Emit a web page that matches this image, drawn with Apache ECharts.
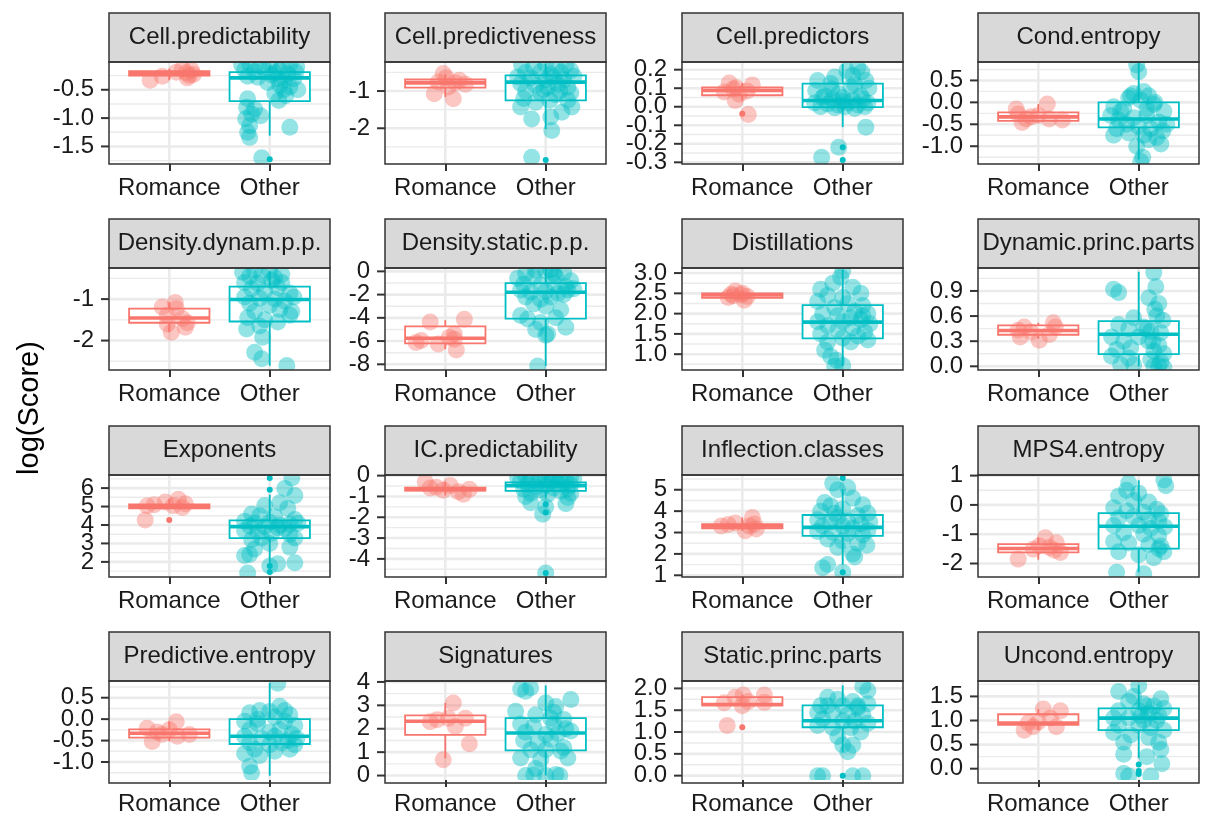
<!DOCTYPE html>
<html><head><meta charset="utf-8">
<script src="https://cdn.jsdelivr.net/npm/echarts@6/dist/echarts.min.js"></script>
<style>html,body{margin:0;padding:0;background:#fff}#c{width:1205px;height:816px}</style>
</head><body><div id="c"></div>
<script>
const facetNames = ['Cell.predictability','Cell.predictiveness','Cell.predictors','Cond.entropy',
  'Density.dynam.p.p.','Density.static.p.p.','Distillations','Dynamic.princ.parts',
  'Exponents','IC.predictability','Inflection.classes','MPS4.entropy',
  'Predictive.entropy','Signatures','Static.princ.parts','Uncond.entropy'];
const groupLabels = ['Romance','Other'];
const yAxisTitle = 'log(Score)';
const yRanges = [[-1.81,-0.01],[-2.96,-0.22],[-0.309,0.2415],[-1.405,0.92],
  [-2.71,-0.25],[-8.49,0.29],[0.61,3.125],[-0.044,1.174],
  [1.18,6.71],[-4.87,0.03],[0.92,5.69],[-2.46,1.02],
  [-1.42,0.89],[-0.19,4.04],[-0.1,2.17],[-0.235,1.82]];
const yTicks = [[-0.5,-1.0,-1.5],[-1,-2],[0.2,0.1,0,-0.1,-0.2,-0.3],[0.5,0,-0.5,-1.0],
  [-1,-2],[0,-2,-4,-6,-8],[3,2.5,2,1.5,1],[0.9,0.6,0.3,0],
  [6,5,4,3,2],[0,-1,-2,-3,-4],[5,4,3,2,1],[1,0,-1,-2],
  [0.5,0,-0.5,-1],[4,3,2,1,0],[2,1.5,1,0.5,0],[1.5,1,0.5,0]];
const yTickLabels = [['-0.5','-1.0','-1.5'],['-1','-2'],['0.2','0.1','0.0','-0.1','-0.2','-0.3'],['0.5','0.0','-0.5','-1.0'],
  ['-1','-2'],['0','-2','-4','-6','-8'],['3.0','2.5','2.0','1.5','1.0'],['0.9','0.6','0.3','0.0'],
  ['6','5','4','3','2'],['0','-1','-2','-3','-4'],['5','4','3','2','1'],['1','0','-1','-2'],
  ['0.5','0.0','-0.5','-1.0'],['4','3','2','1','0'],['2.0','1.5','1.0','0.5','0.0'],['1.5','1.0','0.5','0.0']];
// [lowWhisker, q1, median, q3, highWhisker]
const romanceBox = [[-0.33,-0.25,-0.21,-0.17,-0.13],[-1.16,-0.91,-0.78,-0.69,-0.55],[0.034,0.062,0.088,0.104,0.128],[-0.46,-0.42,-0.33,-0.23,-0.04],
  [-1.8,-1.57,-1.455,-1.228,-1.08],[-6.69,-6.2,-5.76,-4.73,-4.2],[2.33,2.39,2.46,2.5,2.56],[0.33,0.377,0.428,0.489,0.52],
  [4.89,4.9,5.02,5.12,5.4],[-0.95,-0.72,-0.66,-0.58,-0.29],[3.08,3.2,3.31,3.39,3.7],[-1.87,-1.62,-1.49,-1.34,-1.12],
  [-0.52,-0.43,-0.33,-0.237,-0.06],[0.74,1.74,2.32,2.57,3.1],[1.61,1.61,1.63,1.8,1.85],[0.8,0.91,0.946,1.13,1.24]];
const otherBox = [[-1.31,-0.70,-0.29,-0.19,-0.07],[-2.02,-1.25,-0.76,-0.58,-0.26],[-0.11,-0.002,0.034,0.125,0.23],[-1.3,-0.57,-0.38,0.0,0.9],
  [-2.61,-1.54,-1.01,-0.70,-0.33],[-8.14,-4.07,-1.8,-1.02,0.23],[0.71,1.39,1.79,2.21,3.08],[0.0,0.145,0.383,0.54,1.13],
  [1.95,3.29,3.91,4.25,5.65],[-1.1,-0.73,-0.48,-0.32,0.0],[1.5,2.84,3.24,3.82,5.03],[-2.3,-1.49,-0.73,-0.28,0.84],
  [-1.32,-0.58,-0.4,0.0,0.84],[0.0,1.08,1.82,2.45,3.85],[0.55,1.11,1.26,1.61,2.07],[0.22,0.8,1.05,1.25,1.74]];
const romanceOutliers = [[],[],[-0.038],[],[],[],[],[],[4.27],[],[],[],[],[],[1.11],[]];
const otherOutliers = [[-1.725],[-2.85],[-0.218,-0.287],[],[],[],[],[],[6.55,5.91,1.78,1.45],[-1.37,-1.77,-4.68],[5.55,1.14],[],[],[],[0.0],[0.087,-0.05,-0.11]];
// jittered observations: [x offset from group centre, value]
const romancePoints = [
  [[-0.19,-0.33],[-0.07,-0.26],[0.13,-0.13],[0.17,-0.2],[0.18,-0.29],[0.22,-0.15],[0.24,-0.23],[0.07,-0.19],[0.2,-0.25]],
  [[-0.02,-0.53],[-0.11,-1.07],[0.08,-1.21],[0.1,-0.78],[0.2,-0.82],[0.03,-0.89],[0.14,-0.71],[-0.07,-0.76],[0.01,-0.64]],
  [[-0.13,0.128],[-0.06,0.103],[-0.18,0.079],[-0.03,0.067],[0.1,0.118],[0.05,0.085],[-0.07,0.034],[0.06,-0.042],[-0.09,0.097]],
  [[-0.2,-0.267],[-0.16,-0.458],[-0.12,-0.38],[0.09,-0.038],[0.11,-0.38],[0.24,-0.40],[-0.07,-0.33],[-0.22,-0.15],[0.0,-0.3]],
  [[-0.07,-1.19],[0.06,-1.08],[0.07,-1.23],[-0.02,-1.39],[0.13,-1.47],[0.18,-1.57],[0.02,-1.8],[0.16,-1.68],[-0.02,-1.6]],
  [[-0.15,-4.36],[0.19,-4.13],[-0.29,-6.12],[-0.24,-5.96],[-0.07,-6.25],[0.09,-5.4],[0.09,-5.85],[0.11,-6.76],[0.04,-5.67]],
  [[-0.14,2.4],[-0.07,2.56],[-0.01,2.46],[0.02,2.33],[-0.09,2.44],[0.0,2.5],[-0.11,2.48],[0.05,2.42]],
  [[-0.2,0.43],[-0.18,0.35],[-0.14,0.47],[0.01,0.31],[0.15,0.52],[0.17,0.47],[0.11,0.38],[-0.07,0.41]],
  [[-0.22,5.04],[-0.24,4.27],[-0.04,5.25],[0.09,5.4],[0.13,4.95],[0.16,5.15],[-0.15,5.1],[0.04,5.05]],
  [[-0.2,-0.29],[-0.09,-0.56],[0.05,-0.48],[0.13,-0.77],[0.18,-0.89],[0.24,-0.65],[-0.02,-0.7],[-0.15,-0.6]],
  [[-0.21,3.31],[-0.07,3.44],[0.07,3.31],[0.1,3.7],[0.14,3.16],[0.03,3.08],[-0.14,3.38],[0.12,3.4]],
  [[-0.2,-1.85],[-0.05,-1.51],[0.07,-1.12],[0.18,-1.29],[0.22,-1.62],[0.11,-1.45],[0.01,-1.4],[0.16,-1.55]],
  [[-0.22,-0.21],[-0.17,-0.52],[-0.07,-0.35],[0.07,-0.06],[0.08,-0.40],[0.2,-0.36],[0.0,-0.25],[-0.12,-0.3]],
  [[-0.02,0.68],[0.08,3.1],[-0.08,2.38],[0.03,2.45],[0.2,2.45],[0.24,1.36],[0.1,2.1],[-0.15,2.3]],
  [[-0.15,1.15],[-0.18,1.67],[-0.07,1.8],[0.01,1.85],[0.06,1.7],[0.22,1.85],[0.22,1.68],[0.0,1.6]],
  [[-0.14,0.8],[-0.05,0.87],[0.05,1.24],[0.22,1.2],[0.18,0.87],[0.0,0.97],[0.12,1.05],[-0.1,0.95]]
];
const otherPoints = [
  [[-0.28,-0.06],[-0.2,-0.04],[-0.1,-0.08],[0.0,-0.05],[0.12,-0.07],[0.2,-0.05],[0.27,-0.1],[-0.25,-0.15],[-0.15,-0.18],[-0.05,-0.14],[0.05,-0.2],[0.1,-0.16],[0.18,-0.22],[0.26,-0.19],[-0.22,-0.26],[-0.12,-0.28],[0.02,-0.24],[0.08,-0.3],[0.15,-0.33],[0.24,-0.3],[-0.02,-0.37],[0.1,-0.42],[0.2,-0.45],[0.14,-0.5],[0.28,-0.5],[0.05,-0.56],[0.16,-0.6],[-0.22,-0.66],[-0.23,-0.81],[-0.15,-0.84],[-0.18,-0.93],[-0.09,-0.96],[-0.24,-1.01],[-0.2,-1.13],[-0.22,-1.25],[-0.2,-1.34],[0.2,-1.16],[-0.08,-1.7],[0.09,-0.69]],
  [[-0.24,-0.3],[-0.12,-0.35],[0.0,-0.28],[0.1,-0.32],[0.2,-0.3],[0.25,-0.45],[-0.2,-0.5],[-0.05,-0.48],[0.05,-0.55],[0.15,-0.5],[-0.28,-0.62],[-0.15,-0.65],[0.0,-0.7],[0.08,-0.62],[0.18,-0.7],[0.28,-0.6],[-0.25,-0.8],[-0.1,-0.85],[0.02,-0.9],[0.12,-0.82],[0.22,-0.9],[-0.2,-1.0],[-0.05,-1.05],[0.1,-1.1],[0.25,-1.05],[-0.22,-1.2],[-0.1,-1.3],[0.04,-1.25],[0.22,-1.25],[0.26,-1.43],[-0.25,-1.43],[0.16,-1.57],[-0.14,-1.75],[0.05,-1.7],[0.06,-2.06],[-0.14,-2.78],[-0.02,-0.95],[0.14,-1.0]],
  [[0.15,0.212],[0.04,0.195],[0.19,0.187],[-0.08,0.16],[-0.25,0.142],[0.08,0.106],[0.23,0.142],[-0.11,0.097],[-0.27,0.088],[-0.04,0.07],[0.12,0.12],[0.26,0.1],[-0.2,0.05],[-0.1,0.04],[0.0,0.03],[0.1,0.035],[0.2,0.04],[-0.28,0.02],[-0.15,0.015],[-0.05,0.01],[0.05,0.02],[0.15,0.01],[0.25,0.02],[-0.22,0.0],[-0.08,-0.005],[0.02,0.0],[0.12,-0.01],[0.22,0.0],[-0.18,0.06],[0.18,0.06],[0.23,-0.11],[-0.04,-0.218],[-0.21,-0.272],[0.0,0.05],[-0.12,0.125],[0.1,0.17]],
  [[-0.02,0.85],[0.0,0.7],[0.05,0.25],[-0.05,0.2],[0.1,0.15],[-0.1,0.1],[0.02,0.05],[-0.25,-0.1],[-0.15,-0.15],[0.15,-0.05],[0.25,-0.2],[-0.28,-0.3],[-0.2,-0.4],[-0.05,-0.35],[0.08,-0.3],[0.2,-0.45],[-0.12,-0.5],[0.0,-0.55],[0.12,-0.6],[0.28,-0.5],[-0.22,-0.6],[-0.1,-0.7],[0.05,-0.75],[0.18,-0.8],[0.24,-0.65],[-0.25,-0.75],[0.1,-0.85],[0.22,-0.95],[-0.02,-1.0],[0.04,-1.25],[0.02,-1.35],[-0.18,-0.2],[0.16,0.0],[-0.08,0.15],[0.08,-0.15]],
  [[-0.27,-0.35],[-0.15,-0.3],[0.0,-0.32],[-0.2,-0.45],[-0.08,-0.42],[0.05,-0.48],[-0.25,-0.6],[-0.12,-0.62],[0.02,-0.55],[0.12,-0.6],[-0.18,-0.75],[-0.05,-0.8],[0.08,-0.72],[0.2,-0.85],[-0.25,-0.95],[-0.1,-0.98],[0.05,-1.0],[0.15,-1.05],[0.24,-0.95],[-0.2,-1.1],[0.0,-1.15],[0.1,-1.25],[0.22,-1.3],[-0.15,-1.3],[0.2,-1.39],[-0.22,-1.45],[-0.05,-1.5],[0.08,-1.55],[-0.23,-1.72],[-0.1,-1.65],[-0.07,-1.92],[-0.15,-2.28],[-0.08,-2.44],[0.17,-2.6],[0.12,-0.4]],
  [[-0.1,0.1],[0.0,0.05],[0.05,0.15],[-0.2,-0.2],[0.18,-0.1],[-0.28,-0.6],[-0.12,-0.5],[0.1,-0.45],[0.25,-0.8],[-0.22,-1.1],[-0.05,-1.2],[0.08,-1.0],[0.2,-1.3],[0.28,-1.5],[-0.25,-1.6],[-0.15,-1.8],[0.0,-1.7],[0.12,-1.9],[0.22,-1.6],[-0.2,-2.2],[-0.05,-2.4],[0.05,-2.2],[0.18,-2.0],[-0.12,-2.8],[0.0,-3.0],[0.15,-3.3],[-0.25,-3.8],[-0.18,-4.1],[-0.05,-4.4],[0.1,-4.0],[0.2,-4.8],[-0.1,-5.0],[0.02,-5.4],[0.0,-5.5],[-0.08,-8.14],[0.08,-0.2]],
  [[0.0,3.05],[-0.02,2.9],[-0.1,2.75],[-0.22,2.6],[0.1,2.65],[0.18,2.5],[-0.15,2.45],[0.0,2.4],[-0.25,2.3],[0.05,2.25],[0.2,2.2],[-0.08,2.15],[0.12,2.05],[0.25,2.0],[-0.2,2.0],[-0.05,1.95],[0.08,1.9],[0.18,1.85],[-0.25,1.8],[0.0,1.8],[0.27,1.75],[-0.15,1.7],[0.1,1.65],[0.22,1.55],[-0.05,1.6],[-0.22,1.5],[0.15,1.45],[0.0,1.4],[0.25,1.35],[-0.15,1.3],[0.08,1.3],[-0.18,1.1],[-0.12,0.95],[-0.06,0.85],[0.0,0.72],[-0.08,0.7],[0.2,1.95]],
  [[0.15,1.12],[0.17,0.95],[-0.25,0.92],[-0.2,0.88],[0.1,0.82],[0.2,0.75],[0.16,0.68],[0.18,0.6],[0.24,0.55],[-0.05,0.58],[-0.2,0.5],[-0.1,0.45],[0.05,0.47],[0.12,0.42],[0.22,0.4],[-0.27,0.35],[-0.15,0.3],[0.0,0.35],[0.1,0.3],[0.2,0.25],[-0.22,0.2],[-0.08,0.22],[0.15,0.18],[0.25,0.15],[-0.27,0.12],[-0.1,0.1],[0.12,0.08],[0.22,0.05],[-0.05,0.02],[0.15,0.0],[0.2,0.01],[0.25,-0.01],[-0.18,0.02],[0.08,0.45],[0.14,0.3]],
  [[0.22,6.55],[0.15,5.98],[0.25,5.6],[0.1,5.2],[-0.05,5.05],[0.18,4.9],[-0.18,4.6],[-0.1,4.5],[0.05,4.45],[0.25,4.3],[-0.25,4.2],[-0.15,4.1],[0.0,4.15],[0.1,4.0],[0.2,4.05],[-0.2,3.95],[-0.05,3.9],[0.08,3.85],[0.15,3.8],[-0.25,3.7],[-0.12,3.6],[0.02,3.55],[0.2,3.5],[0.25,3.3],[-0.18,3.2],[0.0,3.0],[0.2,2.8],[-0.15,2.7],[-0.2,2.4],[-0.25,2.35],[0.25,1.95],[0.08,1.9],[-0.22,1.4],[0.0,1.78],[0.28,4.1],[-0.08,3.3]],
  [[-0.2,-0.02],[-0.05,0.0],[0.1,-0.05],[0.25,-0.02],[-0.15,-0.15],[0.0,-0.12],[0.15,-0.18],[-0.25,-0.25],[-0.08,-0.3],[0.05,-0.28],[0.2,-0.3],[-0.18,-0.42],[0.0,-0.45],[0.12,-0.4],[0.25,-0.45],[-0.1,-0.55],[0.08,-0.6],[0.22,-0.62],[-0.22,-0.65],[-0.05,-0.7],[0.15,-0.75],[0.25,-0.85],[-0.15,-0.85],[0.02,-0.9],[-0.2,-1.0],[0.22,-1.05],[-0.15,-1.3],[0.2,-1.35],[0.0,-1.5],[-0.03,-1.85],[0.0,-4.68],[-0.28,-0.1],[0.28,-0.15],[0.1,-0.2]],
  [[-0.1,5.3],[-0.05,5.0],[0.05,5.1],[-0.18,4.4],[-0.12,4.25],[0.1,4.6],[0.2,4.3],[0.0,4.1],[-0.22,4.0],[-0.08,3.9],[0.15,3.8],[0.25,3.9],[-0.25,3.6],[-0.12,3.5],[0.05,3.55],[0.18,3.4],[-0.2,3.3],[0.0,3.3],[0.1,3.2],[0.25,3.1],[-0.25,3.05],[-0.1,3.0],[0.05,2.95],[0.2,2.9],[-0.15,2.7],[0.0,2.6],[0.15,2.5],[0.24,2.4],[-0.05,2.3],[0.1,2.0],[0.12,1.85],[-0.15,1.5],[-0.2,1.35],[0.0,1.14],[0.27,3.5],[-0.05,3.7]],
  [[-0.1,0.75],[0.25,0.85],[0.27,0.65],[-0.12,0.5],[0.0,0.4],[-0.2,0.3],[-0.05,0.15],[0.1,0.1],[-0.25,-0.1],[-0.12,-0.2],[0.05,-0.25],[0.18,-0.15],[0.22,-0.3],[-0.2,-0.45],[-0.05,-0.4],[0.1,-0.5],[0.2,-0.55],[-0.25,-0.7],[0.0,-0.7],[0.12,-0.8],[0.26,-0.75],[-0.15,-0.95],[0.05,-1.0],[0.2,-1.05],[-0.25,-1.25],[-0.1,-1.3],[0.1,-1.35],[0.22,-1.4],[0.25,-1.6],[-0.2,-1.6],[0.0,-1.7],[0.15,-1.8],[-0.22,-2.3],[0.05,-2.35],[0.2,-1.5]],
  [[0.08,0.84],[0.1,0.3],[-0.2,0.15],[-0.1,0.2],[0.0,0.18],[0.05,0.05],[0.2,0.1],[-0.25,-0.05],[-0.12,-0.1],[0.15,-0.05],[0.25,-0.15],[-0.2,-0.25],[0.0,-0.3],[0.1,-0.25],[0.22,-0.35],[-0.25,-0.4],[-0.08,-0.45],[0.05,-0.4],[0.18,-0.5],[0.27,-0.45],[-0.2,-0.55],[0.0,-0.6],[0.12,-0.55],[0.25,-0.6],[-0.15,-0.7],[0.05,-0.75],[0.2,-0.7],[-0.25,-0.8],[-0.1,-0.85],[-0.2,-1.1],[-0.18,-1.25],[-0.12,0.0],[0.15,0.2]],
  [[-0.25,3.7],[-0.2,3.6],[-0.15,3.75],[0.25,3.25],[-0.3,2.75],[0.0,3.1],[0.1,2.95],[-0.1,2.6],[0.05,2.45],[0.18,2.4],[-0.25,2.2],[-0.12,2.1],[0.08,2.2],[0.2,2.0],[-0.2,1.85],[0.0,1.75],[0.12,1.8],[0.25,1.9],[-0.22,1.5],[-0.08,1.4],[0.05,1.55],[0.18,1.2],[-0.15,1.1],[0.0,1.1],[0.15,1.05],[-0.25,0.75],[-0.05,0.7],[0.22,0.75],[-0.2,0.0],[-0.12,0.02],[0.0,0.0],[0.1,0.05],[0.14,0.0],[-0.1,0.3],[0.08,2.7]],
  [[0.2,2.05],[0.25,1.95],[-0.15,1.8],[-0.05,1.75],[0.1,1.7],[0.25,1.65],[-0.22,1.6],[0.0,1.6],[0.15,1.55],[-0.25,1.45],[-0.1,1.45],[0.05,1.4],[0.2,1.4],[-0.2,1.3],[0.0,1.25],[0.12,1.25],[0.25,1.2],[-0.25,1.15],[-0.1,1.1],[0.08,1.1],[0.18,1.0],[-0.05,0.9],[0.0,0.7],[0.1,0.7],[0.05,0.55],[-0.25,0.0],[-0.2,0.0],[0.1,0.0],[0.2,0.0],[-0.15,1.6],[0.15,1.6]],
  [[-0.2,1.6],[0.0,1.72],[-0.05,1.5],[0.22,1.45],[-0.1,1.4],[0.05,1.35],[0.15,1.3],[0.25,1.25],[-0.2,1.2],[0.0,1.2],[0.1,1.15],[0.2,1.1],[-0.25,1.05],[-0.1,1.05],[0.05,1.0],[0.18,1.0],[-0.2,0.9],[0.0,0.9],[0.12,0.85],[0.25,0.8],[-0.25,0.75],[-0.08,0.7],[0.1,0.65],[-0.15,0.55],[0.2,0.55],[0.22,0.4],[-0.15,0.3],[0.08,0.25],[0.23,0.1],[-0.15,-0.1],[-0.1,-0.15],[0.12,-0.15],[0.02,1.1],[0.08,1.3]]
];

const chart = echarts.init(document.getElementById('c'), null, {renderer: 'canvas'});
const FONT = "'Liberation Sans', Arial, Helvetica, sans-serif";
const COLORS = ['#F8766D', '#00BFC4'];
const colLeft = [109, 385, 682, 978], W = 221;
const stripTops = [13, 219, 426, 632], stripH = 49, plotH = 102;
const BOX_HALF = 0.4;
const TICK_LEN = 8, LABEL_GAP = 7;

const grids = [], xAxes = [], yAxes = [], series = [], graphics = [];

facetNames.forEach((name, i) => {
  const r = Math.floor(i / 4), c = i % 4;
  const left = colLeft[c], top = stripTops[r] + stripH;
  const ticks = yTicks[i], labs = yTickLabels[i], rng = yRanges[i];
  grids.push({left: left, top: top, width: W, height: plotH, containLabel: false, show: false});
  xAxes.push({
    gridIndex: i, type: 'value', min: 0.4, max: 2.6, position: 'bottom',
    axisLine: {show: false, onZero: false}, splitLine: {show: false}, minorSplitLine: {show: false},
    axisTick: {show: true, customValues: [1, 2], length: 7, lineStyle: {color: '#333', width: 2}},
    axisLabel: {customValues: [1, 2], formatter: v => groupLabels[Math.round(v) - 1],
      showMinLabel: true, showMaxLabel: true, hideOverlap: false,
      fontSize: 24, color: '#1a1a1a', fontFamily: FONT, margin: 12}
  });
  // y axis: scale only; its tick marks and labels are drawn from the axis scale by a custom series below
  yAxes.push({
    gridIndex: i, type: 'value', min: rng[0], max: rng[1],
    axisLine: {show: false, onZero: false}, splitLine: {show: false},
    axisTick: {show: false}, axisLabel: {show: false}
  });
  // grid lines
  const sorted = [...ticks].sort((a, b) => a - b);
  const step = sorted.length > 1 ? sorted[1] - sorted[0] : 1;
  const minors = [];
  for (let k = -1; k < sorted.length; k++) {
    const m = sorted[0] + step * (k + 0.5);
    if (m > rng[0] && m < rng[1]) minors.push(m);
  }
  const gridData = minors.map(v => [v, 1]).concat(ticks.map(v => [v, 0])).concat([[1, 2], [2, 2]]);
  series.push({
    type: 'custom', xAxisIndex: i, yAxisIndex: i, z: 1, silent: true, clip: true,
    data: gridData,
    renderItem: (params, api) => {
      const cs = params.coordSys; const v = api.value(0), kind = api.value(1);
      if (kind === 2) {
        const x = api.coord([v, rng[0]])[0];
        return {type: 'line', shape: {x1: x, y1: cs.y, x2: x, y2: cs.y + cs.height},
          style: {stroke: '#EBEBEB', lineWidth: 2.6}};
      }
      const y = api.coord([1, v])[1];
      return {type: 'line', shape: {x1: cs.x, y1: y, x2: cs.x + cs.width, y2: y},
        style: {stroke: '#EBEBEB', lineWidth: kind === 0 ? 2.6 : 1.4}};
    }
  });
  // y tick marks + tick labels, positioned by the y axis scale
  series.push({
    type: 'custom', xAxisIndex: i, yAxisIndex: i, z: 5, silent: true, clip: false,
    data: ticks.map((v, k) => [0.4, v, k]),
    renderItem: (params, api) => {
      const p = api.coord([0.4, api.value(1)]);
      const lab = labs[api.value(2)];
      return {type: 'group', children: [
        {type: 'line', shape: {x1: p[0] - TICK_LEN, y1: p[1], x2: p[0], y2: p[1]},
          style: {stroke: '#333', lineWidth: 2}},
        {type: 'text', x: p[0] - TICK_LEN - LABEL_GAP, y: p[1],
          style: {text: lab, fontSize: 24, fontFamily: FONT, fill: '#1a1a1a', align: 'right', verticalAlign: 'middle'}}
      ]};
    }
  });
  // boxes
  const boxData = [[1].concat(romanceBox[i]), [2].concat(otherBox[i])];
  series.push({
    type: 'custom', xAxisIndex: i, yAxisIndex: i, z: 2, silent: true, clip: true,
    data: boxData,
    renderItem: (params, api) => {
      const g = api.value(0); const col = COLORS[g - 1];
      const cx = api.coord([g, 0])[0];
      const xl = api.coord([g - BOX_HALF, 0])[0], xr = api.coord([g + BOX_HALF, 0])[0];
      const yv = k => api.coord([g, api.value(k)])[1];
      const yLow = yv(1), yQ1 = yv(2), yMed = yv(3), yQ3 = yv(4), yHigh = yv(5);
      return {type: 'group', children: [
        {type: 'line', shape: {x1: cx, y1: yHigh, x2: cx, y2: yQ3}, style: {stroke: col, lineWidth: 1.8}},
        {type: 'line', shape: {x1: cx, y1: yQ1, x2: cx, y2: yLow}, style: {stroke: col, lineWidth: 1.8}},
        {type: 'rect', shape: {x: xl, y: yQ3, width: xr - xl, height: yQ1 - yQ3},
          style: {fill: '#fff', stroke: col, lineWidth: 1.8}},
        {type: 'line', shape: {x1: xl, y1: yMed, x2: xr, y2: yMed}, style: {stroke: col, lineWidth: 3.6}}
      ]};
    }
  });
  // outliers
  const outData = romanceOutliers[i].map(v => [1, v]).concat(otherOutliers[i].map(v => [2, v]));
  series.push({
    type: 'custom', xAxisIndex: i, yAxisIndex: i, z: 3, silent: true, clip: true,
    data: outData,
    renderItem: (params, api) => {
      const g = api.value(0); const p = api.coord([g, api.value(1)]);
      return {type: 'circle', shape: {cx: p[0], cy: p[1], r: 3}, style: {fill: COLORS[g - 1]}};
    }
  });
  // jittered points
  const ptData = romancePoints[i].map(p => [1 + p[0], p[1], 0]).concat(otherPoints[i].map(p => [2 + p[0], p[1], 1]));
  series.push({
    type: 'custom', xAxisIndex: i, yAxisIndex: i, z: 4, silent: true, clip: true,
    data: ptData,
    renderItem: (params, api) => {
      const p = api.coord([api.value(0), api.value(1)]);
      return {type: 'circle', shape: {cx: p[0], cy: p[1], r: 8.5},
        style: {fill: COLORS[api.value(2)], opacity: 0.42}};
    }
  });
  // strip & border
  graphics.push({type: 'rect', z: 100, shape: {x: left, y: stripTops[r], width: W, height: stripH},
    style: {fill: '#D9D9D9', stroke: '#333333', lineWidth: 1.5}});
  graphics.push({type: 'text', z: 101, x: left + W / 2, y: stripTops[r] + stripH / 2,
    style: {text: name, fontSize: 24, fontFamily: FONT, fill: '#1A1A1A', align: 'center', verticalAlign: 'middle'}});
  graphics.push({type: 'rect', z: 100, shape: {x: left, y: top, width: W, height: plotH},
    style: {fill: 'none', stroke: '#333333', lineWidth: 1.5}});
});

graphics.push({type: 'text', z: 101, x: 30, y: 408, rotation: Math.PI / 2,
  style: {text: yAxisTitle, fontSize: 29, fontFamily: FONT, fill: '#000', align: 'center', verticalAlign: 'middle'}});

chart.setOption({
  animation: false,
  backgroundColor: '#fff',
  grid: grids, xAxis: xAxes, yAxis: yAxes, series: series, graphic: {elements: graphics}
});
</script>
</body></html>
